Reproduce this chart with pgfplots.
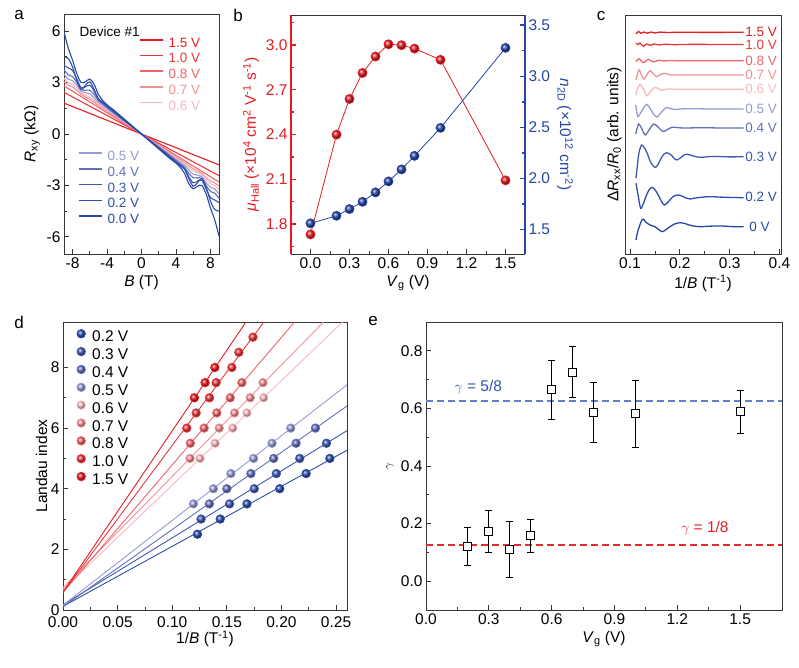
\documentclass[border=0pt]{standalone}
\usepackage{fontspec}
\setmainfont{Liberation Sans}
\usepackage{pgfplots}
\pgfplotsset{compat=1.18}
\definecolor{v00}{RGB}{39,70,165}
\definecolor{v02}{RGB}{44,78,170}
\definecolor{v03}{RGB}{62,88,175}
\definecolor{v04}{RGB}{98,112,188}
\definecolor{v05}{RGB}{150,155,212}
\definecolor{v06}{RGB}{247,185,190}
\definecolor{v07}{RGB}{242,145,150}
\definecolor{v08}{RGB}{238,100,105}
\definecolor{v10}{RGB}{232,55,60}
\definecolor{v15}{RGB}{228,28,36}
\definecolor{axc}{RGB}{55,55,55}
\definecolor{gblue}{RGB}{95,130,205}
\definecolor{gbluet}{RGB}{45,85,170}
\definecolor{gred}{RGB}{225,45,45}
\newcommand{\tfs}{\fontsize{15.5}{15.5}\selectfont}
\newcommand{\sfs}{\fontsize{13.5}{13.5}\selectfont}
\pgfplotsset{pan/.style={scale only axis, anchor=south west,
  axis line style={axc, line width=0.9pt},
  every tick/.style={axc, line width=0.8pt},
  tick align=inside, major tick length=5pt, minor tick length=3pt,
  ticklabel style={font=\tfs}, label style={font=\tfs},
  /pgf/number format/assume math mode=true},
  fx1/.style={/pgf/number format/fixed, /pgf/number format/fixed zerofill, /pgf/number format/precision=1},
  fx2/.style={/pgf/number format/fixed, /pgf/number format/fixed zerofill, /pgf/number format/precision=2},
  lleg/.style={legend cell align=left,
    legend image code/.code={\draw[##1, line width=1.6pt] plot coordinates {(0pt,3.5pt) (23pt,3.5pt)}; \path (27pt,0pt);}}}
\begin{document}
\begin{tikzpicture}
\path[use as bounding box] (0pt,0pt) rectangle (799pt,668pt);
% ---------------- panel a (red) ----------------
\begin{axis}[pan, lleg, at={(64pt,414pt)}, width=155pt, height=240pt,
  xmin=-9, xmax=9, ymin=-7, ymax=7, tick pos=left,
  xtick={-8,-4,0,4,8}, minor xtick={-6,-2,2,6},
  ytick={-6,-3,0,3,6}, minor ytick={-4.5,-1.5,1.5,4.5},
  xlabel={\textit{B} (T)}, ylabel={\textit{R}\textsubscript{xy} (kΩ)},
  legend style={at={(0.484,0.908)}, anchor=north west, draw=none, fill=none, inner sep=0pt,
    font=\sfs, row sep=1.7pt, nodes={inner sep=1pt, text height=10pt, text depth=2pt}}]
\addplot[color=v15, line width=1.1pt] coordinates {(-9,1.8) (9,-1.8)};
\addlegendentry{\textcolor{v15}{1.5 V}}
\addplot[color=v10, line width=1.1pt] coordinates {(-9,2.43) (9,-2.43)};
\addlegendentry{\textcolor{v10}{1.0 V}}
\addplot[color=v08, line width=1.1pt] coordinates {(-9,2.8) (9,-2.8)};
\addlegendentry{\textcolor{v08}{0.8 V}}
\addplot[color=v07, line width=1.1pt, smooth] coordinates {(-9,3.05) (-8.5,2.85) (-8,2.75) (-7.5,2.55) (-7,2.3) (-6.5,2.15) (-6,2.02) (-5,1.67) (-3,1.0) (0,0) (3,-1.0) (5,-1.67) (6,-2.02) (6.5,-2.15) (7,-2.3) (7.5,-2.55) (8,-2.75) (8.5,-2.85) (9,-3.05)};
\addlegendentry{\textcolor{v07}{0.7 V}}
\addplot[color=v06, line width=1.1pt, smooth] coordinates {(-9,3.25) (-8.5,3.0) (-8,2.9) (-7.5,2.7) (-7,2.4) (-6.5,2.25) (-6,2.15) (-5,1.75) (-3,1.05) (0,0) (3,-1.05) (5,-1.75) (6,-2.15) (6.5,-2.25) (7,-2.4) (7.5,-2.7) (8,-2.9) (8.5,-3.0) (9,-3.25)};
\addlegendentry{\textcolor{v06}{0.6 V}}
\end{axis}
\node[font=\sfs, anchor=west] at (76pt,636pt) {Device \#1};
% ---------------- panel a (blue) ----------------
\begin{axis}[pan, lleg, at={(64pt,414pt)}, width=155pt, height=240pt,
  xmin=-9, xmax=9, ymin=-7, ymax=7, hide axis,
  legend style={at={(0.09,0.435)}, anchor=north west, draw=none, fill=none, inner sep=0pt,
    font=\sfs, row sep=1.7pt, nodes={inner sep=1pt, text height=10pt, text depth=2pt}}]
\addplot[color=v05, line width=1.1pt, smooth] coordinates {(-9,3.5) (-8.5,3.2) (-8,3.1) (-7.5,2.85) (-7,2.5) (-6.5,2.4) (-6,2.35) (-5.5,2.1) (-5,1.85) (-3,1.1) (0,0) (3,-1.1) (5,-1.85) (5.5,-2.1) (6,-2.35) (6.5,-2.4) (7,-2.5) (7.5,-2.85) (8,-3.1) (8.5,-3.2) (9,-3.5)};
\addlegendentry{\textcolor{v05}{0.5 V}}
\addplot[color=v04, line width=1.1pt, smooth] coordinates {(-9,3.75) (-8.5,3.45) (-8,3.35) (-7.5,3.0) (-7,2.6) (-6.5,2.55) (-6,2.55) (-5.5,2.3) (-5,1.95) (-4.5,1.75) (-3,1.15) (0,0) (3,-1.15) (4.5,-1.75) (5,-1.95) (5.5,-2.3) (6,-2.55) (6.5,-2.55) (7,-2.6) (7.5,-3.0) (8,-3.35) (8.5,-3.45) (9,-3.75)};
\addlegendentry{\textcolor{v04}{0.4 V}}
\addplot[color=v03, line width=1.1pt, smooth] coordinates {(-9,4.0) (-8.5,3.85) (-8,3.7) (-7.5,3.2) (-7,2.7) (-6.5,2.75) (-6,2.85) (-5.5,2.5) (-5,2.0) (-4.5,1.8) (-3,1.2) (0,0) (3,-1.2) (4.5,-1.8) (5,-2.0) (5.5,-2.5) (6,-2.85) (6.5,-2.75) (7,-2.7) (7.5,-3.2) (8,-3.7) (8.5,-3.85) (9,-4.0)};
\addlegendentry{\textcolor{v03}{0.3 V}}
\addplot[color=v02, line width=1.1pt, smooth] coordinates {(-9,4.5) (-8.5,4.4) (-8,3.9) (-7.5,3.1) (-7,2.6) (-6.5,2.85) (-6,3.05) (-5.5,2.6) (-5,2.05) (-4.5,1.85) (-3,1.25) (0,0) (3,-1.25) (4.5,-1.85) (5,-2.05) (5.5,-2.6) (6,-3.05) (6.5,-2.85) (7,-2.6) (7.5,-3.1) (8,-3.9) (8.5,-4.4) (9,-4.5)};
\addlegendentry{\textcolor{v02}{0.2 V}}
\addplot[color=v00, line width=1.1pt, smooth] coordinates {(-9,5.95) (-8.5,5.0) (-8,4.3) (-7.5,3.5) (-7,3.0) (-6.5,3.05) (-6,3.2) (-5.5,2.9) (-5,2.3) (-4.5,1.95) (-4,1.7) (-3,1.3) (0,0) (3,-1.3) (4,-1.7) (4.5,-1.95) (5,-2.3) (5.5,-2.9) (6,-3.2) (6.5,-3.05) (7,-3.0) (7.5,-3.5) (8,-4.3) (8.5,-5.0) (9,-5.95)};
\addlegendentry{\textcolor{v00}{0.0 V}}
\end{axis}
% ---------------- panel b ----------------
\begin{axis}[pan, at={(291pt,414pt)}, width=234pt, height=239pt,
  xmin=-0.15, xmax=1.65, ymin=1.6, ymax=3.2,
  axis x line*=bottom, axis y line*=left,
  xtick={0,0.3,...,1.5}, minor xtick={0.15,0.45,...,1.35},
  ytick={1.8,2.1,...,3.0}, minor ytick={1.65,1.95,...,3.15},
  xticklabel style={fx1},
  yticklabel style={fx1, text=v15},
  y axis line style={v15, line width=1.4pt}, y tick style={v15, line width=1.4pt},
  xlabel={\textit{V}\textsubscript{g} (V)},
  ylabel={\color{v15}\textit{μ}\textsubscript{Hall} (×10\textsuperscript{4} cm\textsuperscript{2} V\textsuperscript{-1} s\textsuperscript{-1})}]
\addplot[color=v15, line width=0.8pt, mark=ball, mark size=4.5, mark options={ball color=v15}] coordinates {
(0,1.731) (0.2,2.399) (0.3,2.638) (0.4,2.812) (0.5,2.922) (0.6,3.004) (0.7,2.998) (0.8,2.975) (1.0,2.90) (1.5,2.093)};
\end{axis}
\begin{axis}[pan, at={(291pt,414pt)}, width=234pt, height=239pt,
  xmin=-0.15, xmax=1.65, ymin=1.26, ymax=3.6,
  axis x line*=top, axis y line*=right, xtick=\empty,
  ytick={1.5,2.0,...,3.5}, minor ytick={1.75,2.25,...,3.25},
  yticklabel style={fx1, text=v00},
  y axis line style={v00, line width=1.4pt}, y tick style={v00, line width=1.4pt},
  ylabel style={rotate=180},
  ylabel={\color{v00}\textit{n}\textsubscript{2D} (×10\textsuperscript{12} cm\textsuperscript{-2})}]
\addplot[color=v00, line width=0.8pt, mark=ball, mark size=4.5, mark options={ball color=v00}] coordinates {
(0,1.56) (0.2,1.634) (0.3,1.70) (0.4,1.771) (0.5,1.863) (0.6,1.971) (0.7,2.088) (0.8,2.221) (1.0,2.495) (1.5,3.278)};
\end{axis}
% ---------------- panel c ----------------
\begin{axis}[pan, at={(625pt,414pt)}, width=156pt, height=239pt,
  xmin=0.09, xmax=0.403, ymin=0, ymax=239, tick pos=left,
  xtick={0.1,0.2,0.3,0.4}, minor xtick={0.15,0.25,0.35}, ytick=\empty,
  xticklabel style={fx1},
  xlabel={1/\textit{B} (T\textsuperscript{-1})},
  ylabel={Δ\textit{R}\textsubscript{xx}/\textit{R}\textsubscript{0} (arb. units)},
  every axis plot post/.append style={line width=1.3pt}]
\addplot[color=v00, smooth] coordinates {(0.112,14.0) (0.116,23.3) (0.1248,34.7) (0.132,31.8) (0.1402,29.0) (0.1502,27.3) (0.158,24.3) (0.165,22.3) (0.172,24.3) (0.18,27.3) (0.19,30.1) (0.2,31.3) (0.21,30.5) (0.22,28.8) (0.232,27.6) (0.244,27.3) (0.255,27.7) (0.265,27.9) (0.284,28.0) (0.3,27.5) (0.31,27.3) (0.328,27.3)};
\addplot[color=v02, smooth] coordinates {(0.112,70.7) (0.116,59.7) (0.1214,45.7) (0.127,50.7) (0.133,58.7) (0.139,64.7) (0.1449,66.7) (0.151,63.7) (0.157,58.7) (0.163,52.7) (0.169,49.0) (0.176,51.7) (0.183,55.7) (0.19,58.5) (0.1971,59.0) (0.205,57.7) (0.213,55.9) (0.2206,55.0) (0.23,55.9) (0.2574,57.3) (0.29,56.7) (0.328,56.3)};
\addplot[color=v03, smooth] coordinates {(0.112,75.7) (0.115,89.3) (0.118,101.3) (0.1234,109.0) (0.13,105.3) (0.135,100.3) (0.14,93.3) (0.146,88.3) (0.1516,86.7) (0.157,90.3) (0.162,95.3) (0.168,99.8) (0.1737,101.3) (0.179,100.3) (0.184,98.3) (0.189,95.3) (0.1938,94.0) (0.199,95.3) (0.204,97.3) (0.209,99.1) (0.2139,99.7) (0.219,99.3) (0.225,98.3) (0.235,97.0) (0.244,96.7) (0.257,97.3) (0.27,97.6) (0.30,97.1) (0.328,97.3)};
\addplot[color=v04, smooth] coordinates {(0.1114,120) (0.1145,126) (0.1175,130) (0.123,126) (0.1305,119) (0.138,124) (0.1475,130) (0.156,127) (0.1665,122.5) (0.175,124.5) (0.185,126.8) (0.197,126.3) (0.21,126) (0.25,126.3) (0.28,126) (0.328,126)};
\addplot[color=v05, smooth] coordinates {(0.1114,149) (0.1154,137.5) (0.12,140) (0.127,146) (0.1335,149.5) (0.14,146) (0.147,140) (0.1536,137) (0.16,140) (0.167,144) (0.1737,146.5) (0.181,145.5) (0.19,144.5) (0.2,145) (0.23,145.3) (0.26,145) (0.328,145)};
\addplot[color=v06, smooth] coordinates {(0.1114,158.7) (0.115,164.7) (0.1201,169.7) (0.127,164.7) (0.1335,158.2) (0.14,161.7) (0.148,166.2) (0.1536,166.2) (0.1636,163.7) (0.175,165) (0.2,164.7) (0.328,164.7)};
\addplot[color=v07, smooth] coordinates {(0.1121,174) (0.1181,184) (0.1268,175) (0.1335,179) (0.1402,183.3) (0.147,180) (0.1536,177.3) (0.161,179.5) (0.1689,180.7) (0.18,179.2) (0.2,179) (0.328,179)};
\addplot[color=v08, smooth] coordinates {(0.1121,192.3) (0.1181,195.3) (0.1268,191.3) (0.1369,194.7) (0.1469,192) (0.157,193.8) (0.168,193) (0.18,193.5) (0.2,193.3) (0.328,193.3)};
\addplot[color=v10, smooth] coordinates {(0.1121,211) (0.116,209.5) (0.1201,211) (0.1268,207.7) (0.1335,210) (0.1402,208.5) (0.148,210) (0.158,209) (0.17,209.8) (0.19,209.3) (0.22,209.6) (0.328,209.5)};
\addplot[color=v15, smooth] coordinates {(0.1121,220) (0.117,222.5) (0.1225,220.7) (0.128,222) (0.135,220.8) (0.142,222) (0.15,221) (0.16,221.9) (0.175,221.5) (0.2,221.8) (0.25,221.6) (0.328,221.7)};
\node[font=\sfs, text=v15, anchor=west, inner sep=1pt] at (axis cs:0.329,221.7) {1.5 V};
\node[font=\sfs, text=v10, anchor=west, inner sep=1pt] at (axis cs:0.329,209.5) {1.0 V};
\node[font=\sfs, text=v08, anchor=west, inner sep=1pt] at (axis cs:0.329,193.3) {0.8 V};
\node[font=\sfs, text=v07, anchor=west, inner sep=1pt] at (axis cs:0.329,179) {0.7 V};
\node[font=\sfs, text=v06, anchor=west, inner sep=1pt] at (axis cs:0.329,164.7) {0.6 V};
\node[font=\sfs, text=v05, anchor=west, inner sep=1pt] at (axis cs:0.329,145) {0.5 V};
\node[font=\sfs, text=v04, anchor=west, inner sep=1pt] at (axis cs:0.329,126) {0.4 V};
\node[font=\sfs, text=v03, anchor=west, inner sep=1pt] at (axis cs:0.329,97.3) {0.3 V};
\node[font=\sfs, text=v02, anchor=west, inner sep=1pt] at (axis cs:0.329,56.7) {0.2 V};
\node[font=\sfs, text=v00, anchor=west, inner sep=1pt] at (axis cs:0.337,27.3) {0 V};
\end{axis}
% ---------------- panel d ----------------
\begin{axis}[pan, at={(63pt,58pt)}, width=284pt, height=288pt,
  xmin=0, xmax=0.26, ymin=0, ymax=9.5, tick pos=left,
  xtick={0,0.05,...,0.25}, minor x tick num=1,
  ytick={0,2,4,6,8}, minor y tick num=1,
  xticklabel style={fx2, inner sep=0pt, yshift=-6.5pt},
  yticklabel style={inner sep=0pt, xshift=-3.3pt},
  xlabel={1/\textit{B} (T\textsuperscript{-1})}, ylabel={Landau index},
  legend style={at={(0.047,0.976)}, anchor=north west, draw=none, fill=none, inner sep=0pt,
    font=\tfs, row sep=1.2pt, nodes={inner sep=1pt, text height=11pt, text depth=3pt}},
  legend cell align=left,
  legend image code/.code={\draw[#1] plot coordinates {(6pt,4pt)}; \path (15.5pt,0pt);},
  every axis plot post/.append style={line width=0.9pt}]
\addplot[color=v02, forget plot] coordinates {(0,0.12) (0.26,5.268)};
\addplot[color=v03, forget plot] coordinates {(0,0.17) (0.26,5.916)};
\addplot[color=v04, forget plot] coordinates {(0,0.11) (0.26,6.73)};
\addplot[color=v05, forget plot] coordinates {(0,0.16) (0.26,7.427)};
\addplot[color=v06, forget plot] coordinates {(0,0.67) (0.26,9.64)};
\addplot[color=v07, forget plot] coordinates {(0,0.73) (0.26,10.29)};
\addplot[color=v08, forget plot] coordinates {(0,0.58) (0.26,11.52)};
\addplot[color=v10, forget plot] coordinates {(0,0.58) (0.26,13.19)};
\addplot[color=v15, forget plot] coordinates {(0,0.59) (0.26,14.42)};
\addplot[color=v02, only marks, mark=ball, mark size=4.2, mark options={ball color=v02}] coordinates {(0.1231,2.5) (0.1439,3) (0.1684,3.5) (0.1984,4) (0.2226,4.5) (0.2443,5)};
\addlegendentry{0.2 V}
\addplot[color=v03, only marks, mark=ball, mark size=4.2, mark options={ball color=v03}] coordinates {(0.1264,3) (0.1525,3.5) (0.1751,4) (0.1953,4.5) (0.2167,5) (0.2412,5.5)};
\addlegendentry{0.3 V}
\addplot[color=v04, only marks, mark=ball, mark size=4.2, mark options={ball color=v04}] coordinates {(0.134,3.5) (0.150,4) (0.172,4.5) (0.1929,5) (0.2134,5.5) (0.2311,6)};
\addlegendentry{0.4 V}
\addplot[color=v05, only marks, mark=ball, mark size=4.2, mark options={ball color=v05}] coordinates {(0.1194,3.5) (0.1377,4) (0.1537,4.5) (0.1745,5) (0.1914,5.5) (0.2085,6)};
\addlegendentry{0.5 V}
\addplot[color=v06, only marks, mark=ball, mark size=4.2, mark options={ball color=v06}] coordinates {(0.1255,5) (0.1393,5.5) (0.1555,6) (0.1684,6.5) (0.1837,7)};
\addlegendentry{0.6 V}
\addplot[color=v07, only marks, mark=ball, mark size=4.2, mark options={ball color=v07}] coordinates {(0.1163,5) (0.143,6) (0.157,6.5) (0.1714,7) (0.1831,7.5)};
\addlegendentry{0.7 V}
\addplot[color=v08, only marks, mark=ball, mark size=4.2, mark options={ball color=v08}] coordinates {(0.1166,5.5) (0.1292,6) (0.1408,6.5) (0.1531,7) (0.1638,7.5)};
\addlegendentry{0.8 V}
\addplot[color=v10, only marks, mark=ball, mark size=4.2, mark options={ball color=v10}] coordinates {(0.1133,6) (0.1219,6.5) (0.1341,7) (0.1402,7.5) (0.1546,8) (0.161,8.5) (0.1739,9)};
\addlegendentry{1.0 V}
\addplot[color=v15, only marks, mark=ball, mark size=4.2, mark options={ball color=v15}] coordinates {(0.1203,7) (0.1301,7.5) (0.139,8)};
\addlegendentry{1.5 V}
\end{axis}
% ---------------- panel e ----------------
\begin{axis}[pan, at={(426pt,58pt)}, width=356pt, height=288pt,
  xmin=0, xmax=1.7, ymin=-0.1, ymax=0.9, tick pos=left,
  xtick={0,0.3,...,1.5}, minor x tick num=1,
  ytick={0,0.2,...,0.8}, minor y tick num=1,
  xticklabel style={fx1},
  yticklabel style={fx1},
  xlabel={\textit{V}\textsubscript{g} (V)}, ylabel={$\gamma$},
  ylabel style={font=\fontsize{12}{12}\selectfont}]
\addplot[color=gblue, dash pattern=on 7pt off 4pt, line width=1.6pt] coordinates {(0,0.625) (1.7,0.625)};
\addplot[color=gred, dash pattern=on 7pt off 4pt, line width=1.6pt] coordinates {(0,0.125) (1.7,0.125)};
\addplot[color=black, only marks, mark=square*, mark size=4, mark options={fill=white, draw=black, line width=0.9pt},
  error bars/.cd, y dir=both, y explicit,
  error bar style={black, line width=0.9pt},
  error mark options={rotate=90, mark size=3.5, black, line width=0.9pt}] coordinates {
(0.2,0.121) += (0,0.065) -= (0,0.067)
(0.3,0.173) += (0,0.073) -= (0,0.074)
(0.4,0.110) += (0,0.097) -= (0,0.096)
(0.5,0.158) += (0,0.056) -= (0,0.057)
(0.6,0.665) += (0,0.103) -= (0,0.102)
(0.7,0.726) += (0,0.089) -= (0,0.088)
(0.8,0.586) += (0,0.104) -= (0,0.105)
(1.0,0.581) += (0,0.116) -= (0,0.116)
(1.5,0.589) += (0,0.074) -= (0,0.076)};
\node[font=\tfs, text=gbluet] at (axis cs:0.25,0.673) {$\gamma$ = 5/8};
\node[font=\tfs, text=v15] at (axis cs:1.332,0.184) {$\gamma$ = 1/8};
\end{axis}
% ---------------- panel letters ----------------
\node[font=\fontsize{17}{17}\selectfont] at (19pt,653pt) {a};
\node[font=\fontsize{17}{17}\selectfont] at (238pt,653pt) {b};
\node[font=\fontsize{17}{17}\selectfont] at (601pt,652pt) {c};
\node[font=\fontsize{17}{17}\selectfont] at (19pt,346pt) {d};
\node[font=\fontsize{17}{17}\selectfont] at (373pt,347pt) {e};
\end{tikzpicture}
\end{document}
